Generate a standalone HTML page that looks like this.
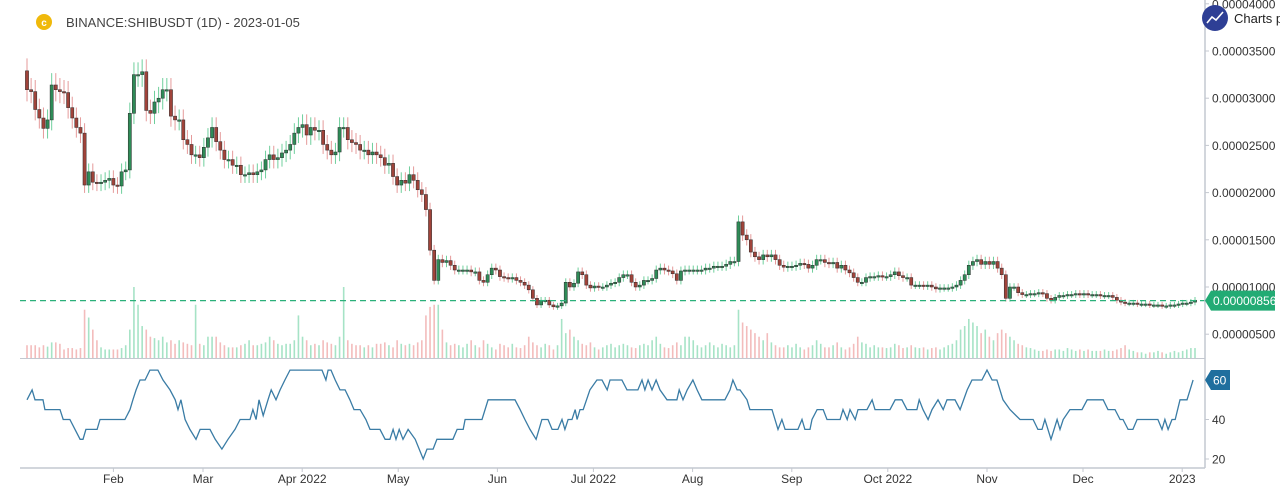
<!DOCTYPE html>
<html><head><meta charset="utf-8"><style>
html,body{margin:0;padding:0;background:#fff;width:1280px;height:499px;overflow:hidden}
svg{display:block;font-family:"Liberation Sans",sans-serif}
</style></head><body>
<svg id="chart" width="1280" height="499" viewBox="0 0 1280 499" xmlns="http://www.w3.org/2000/svg">
<g>
<circle cx="44" cy="22" r="8" fill="#f0b90b"/>
<text x="44" y="26" font-size="10" fill="#fff" text-anchor="middle" font-weight="bold">c</text>
<text x="66" y="27" font-size="13" fill="#444">BINANCE:SHIBUSDT (1D) - 2023-01-05</text>
</g>
<g id="grid"></g>
<g id="volumes"></g>
<g id="candles"></g>
<g id="rsi"></g>
<g id="axes"></g>
<g>
<circle cx="1215" cy="18" r="13" fill="#2e3f95"/>
<polyline points="1207,23 1212,17 1216,20 1223,12" fill="none" stroke="#fff" stroke-width="1.6"/>
<text x="1234" y="23" font-size="13" fill="#222">Charts p</text>
</g>
</svg>
<script>
const closes=[3090,3070,2880,2790,2680,2770,3140,3090,3070,3060,2900,2790,2690,2630,2080,2220,2110,2100,2110,2130,2150,2080,2070,2220,2240,2840,
3250,3250,3280,2870,2840,2960,3000,3090,3090,2810,2770,2770,2560,2510,2400,2400,2370,2480,2580,2690,2540,2450,2350,2350,2290,2290,2190,2190,2210,2190,2220,2240,2350,2400,2350,2370,2420,2450,2510,2630,2690,2720,2610,2690,2660,2660,2510,2450,2400,2430,2690,
2690,2560,2530,2510,2450,2450,2400,2430,2400,2370,2290,2310,2170,2080,2130,2100,2190,2130,2030,1980,1820,1390,1070,
1290,1260,1280,1230,1180,1180,1180,1180,1160,1160,1070,1050,1130,1200,1180,1110,1100,1090,1100,1070,1050,1020,970,880,810,860,860,810,790,800,830,1050,1000,1040,1160,1130,1020,990,1010,1000,1000,1020,1040,1050,1100,1130,1130,1050,1000,1020,1070,1070,1090,1180,1200,1180,1170,1140,1070,1170,1180,1180,1180,1180,1180,1200,1200,1220,1220,1220,1240,1270,1270,
1690,1550,1500,1370,1320,1290,1340,1320,1340,1290,1230,1210,1220,1220,1230,1250,1240,1200,1230,1290,1290,1260,1250,1260,1200,1230,1180,1150,1100,1050,1050,1100,1110,1110,1120,1110,1110,1130,1160,1120,1100,1100,1020,1020,1020,1010,1020,1000,980,990,990,990,1000,1020,1070,1130,1230,1270,1290,1240,1270,1240,1270,1200,1130,
880,1000,1000,940,920,920,930,930,940,930,880,860,890,910,910,920,920,930,920,930,920,920,920,910,910,910,890,860,840,830,830,830,820,820,820,810,810,810,800,800,810,810,820,830,830,840,860];
const firstOpen=3290;
const volumes=[18,18,18,15,18,16,22,22,20,12,14,14,12,14,68,57,40,25,15,12,12,12,12,14,18,40,
100,75,45,40,30,28,25,30,22,25,20,25,22,20,18,75,20,18,30,30,30,22,18,15,15,15,18,20,25,18,18,20,22,30,25,20,18,20,20,25,60,30,25,18,20,18,25,22,20,18,30,
100,25,20,18,18,15,18,15,20,20,22,18,15,25,20,18,20,18,22,25,60,72,75,
75,40,22,18,20,18,15,20,25,18,15,25,20,15,12,20,18,15,20,15,14,18,30,22,18,15,20,18,12,18,55,35,40,30,25,20,18,22,15,12,15,18,20,15,18,20,18,15,14,18,20,18,25,30,20,15,14,18,22,18,30,30,25,18,15,18,22,18,15,20,18,15,18,
68,50,45,40,35,30,25,35,22,18,15,15,18,15,20,15,12,15,18,25,20,15,15,18,22,15,12,15,20,30,22,20,15,18,15,15,14,15,20,18,14,15,18,15,14,15,12,14,15,12,15,18,20,25,40,45,55,50,45,35,40,30,25,35,40,
35,30,25,20,18,15,14,12,10,10,12,10,12,12,10,14,12,10,12,10,12,10,10,10,12,10,10,12,14,18,12,10,8,8,6,8,8,10,8,6,8,10,8,10,12,14,14];
const rsiDay=[0,1.6,2.5,5,5.6,10.3,11.3,13.4,15,16.6,17.5,18.4,21.9,22.8,30.6,32.2,33.1,34.1,35.3,36.9,38.4,40.9,42.5,44.7,46.3,47.2,48.1,49.4,50.9,52.8,54.1,57.2,58.8,60.9,62.8,65,66.6,69.7,70.6,71.6,72.5,73.8,75.3,76.3,77.8,79.1,80.6,82.2,92.2,93.4,94.1,95,96.3,97.8,99.4,100.9,102.2,104.1,105.9,107.2,110.3,111.9,113.4,114.4,115.3,116.3,117.5,119.1,121.3,123.8,125,126.9,128.1,133.1,134.4,136.3,136.9,142.2,144.1,152.5,154.1,155.6,157.2,159.1,160.9,162.8,164.1,165.9,167.2,168.1,169.1,170.3,171.3,171.9,172.8,173.8,175.9,178.1,179.7,181.3,182.2,185.9,187.5,190.9,192.2,193.1,194.1,195.3,196.6,197.8,200,203.1,203.8,205,206.3,208.1,209.4,210.9,218.1,219.7,220.6,221.9,222.8,225,225.9,232.8,234.7,235.9,236.9,240.9,242.2,243.1,244.7,245.3,246.9,248.8,250,254.1,255,256.3,257.2,258.8,259.7,262.5,264.1,265,269.7,271.3,273.4,275,278.1,278.8,280,281.6,282.8,284.7,286.3,287.5,290,291.6,293.8,295.3,298.4,300,301.6,303.1,305,307.2,310.3,314.4,315.9,317.2,318.1,320,321.9,322.8,323.8,325.9,329.7,331.3,336.3,337.8,340,341.6,342.5,344.1,345.6,346.9,353.4,354.7,355.6,356.6,357.8,358.8,360.3,362.5,364.4];
const rsiVal=[50,55,50,50,45,45,40,40,35,30,30,35,35,40,40,45,50,55,60,60,65,65,60,55,50,45,50,40,35,30,35,35,30,25,30,35,40,40,45,40,50,42,50,55,50,55,60,65,65,60,65,65,60,55,55,50,45,45,40,35,35,30,30,35,30,35,30,35,30,20,25,25,30,30,35,35,40,40,50,50,45,40,35,30,40,40,35,35,40,35,40,40,45,40,45,45,55,60,60,55,60,60,55,55,60,55,60,55,60,55,50,50,55,50,55,60,55,50,50,55,60,55,55,50,45,45,35,40,35,35,40,35,35,40,45,45,40,40,45,40,45,40,45,45,50,45,45,50,50,45,45,50,45,40,45,50,45,50,50,45,55,60,60,65,60,60,50,45,40,40,35,35,40,30,40,35,40,45,45,50,50,45,45,40,40,35,35,40,40,35,40,35,40,40,50,50,60];
const priceTicks=[500,1000,1500,2000,2500,3000,3500,4000];
const rsiTicks=[20,40];
const monthLabels=["Feb","Mar","Apr 2022","May","Jun","Jul 2022","Aug","Sep","Oct 2022","Nov","Dec","2023"];
const monthDays=[27,55,86,116,147,177,208,239,269,300,330,361];
const lastPrice=856, lastRsi=60;

const NS="http://www.w3.org/2000/svg";
const X0=27,X1=1195,DAYS=365;
const xDay=d=>X0+d*(X1-X0)/DAYS;
const xIdx=i=>X0+i*(X1-X0)/(closes.length-1);
const yP=p=>287-(p-1000)*0.0944;
const yR=v=>380-(v-60)*1.975;
const hV=v=>v*0.71;
function mk(tag,attrs,parent){const e=document.createElementNS(NS,tag);for(const k in attrs)e.setAttribute(k,attrs[k]);parent.appendChild(e);return e;}
const gC=document.getElementById('candles'),gV=document.getElementById('volumes'),gR=document.getElementById('rsi'),gA=document.getElementById('axes');

closes.forEach((c,i)=>{
  const o=i===0?firstOpen:closes[i-1];
  const up=c>=o, x=xIdx(i);
  const hi=Math.max(o,c)*1.04, lo=Math.min(o,c)*0.96;
  const w=mk('line',{x1:x,x2:x,y1:yP(hi),y2:yP(lo),stroke:up?'#6fcf9c':'#e59a9a','stroke-width':1},gC);
  
  
  const top=yP(Math.max(o,c)),bot=yP(Math.min(o,c));
  const b=mk('rect',{x:x-1.6,y:top,width:3.2,height:Math.max(1.4,bot-top),fill:up?'#2e8b57':'#a0433a',stroke:'#2b2b2b','stroke-width':0.5},gC);
  
  
  const v=volumes[i]||0;
  const vb=mk('rect',{x:x-0.8,y:358-hV(v),width:1.6,height:hV(v),fill:up?'#a6e3c6':'#f3bcbc'},gV);
  
  
});

const pl=mk('line',{x1:20,x2:1205,y1:yP(lastPrice),y2:yP(lastPrice),stroke:'#2bb07a','stroke-width':1.2,'stroke-dasharray':'6,4'},gC);



let pts=rsiDay.map((d,i)=>xDay(d).toFixed(1)+','+yR(rsiVal[i]).toFixed(1)).join(' ');
const rl=mk('polyline',{points:pts,fill:'none',stroke:'#3a7ca5','stroke-width':1.3},gR);



const ax=mk('line',{x1:1205,x2:1205,y1:0,y2:468,stroke:'#c4c8d0','stroke-width':1.5},gA);


const bx=mk('line',{x1:20,x2:1205,y1:468,y2:468,stroke:'#c4c8d0','stroke-width':1.5},gA);


const sep=mk('line',{x1:20,x2:1205,y1:358.5,y2:358.5,stroke:'#c4c8d0','stroke-width':1},gA);


priceTicks.forEach(p=>{
  const y=yP(p);
  mk('line',{x1:1205,x2:1209,y1:y,y2:y,stroke:'#c4c8d0'},gA);
  const t=mk('text',{x:1212,y:y+4.5,'font-size':12,fill:'#333'},gA);
  
  
  t.textContent=(p*1e-8).toFixed(8);
});
rsiTicks.forEach(v=>{
  const y=yR(v);
  mk('line',{x1:1205,x2:1209,y1:y,y2:y,stroke:'#c4c8d0'},gA);
  const t=mk('text',{x:1212,y:y+4.5,'font-size':12,fill:'#333'},gA);
  
  
  t.textContent=v;
});
monthLabels.forEach((m,i)=>{
  const x=xDay(monthDays[i]);
  mk('line',{x1:x,x2:x,y1:468,y2:472,stroke:'#c4c8d0'},gA);
  const t=mk('text',{x:x,y:483,'font-size':12,fill:'#333','text-anchor':'middle'},gA);
  
  
  t.textContent=m;
});
const yl=yP(lastPrice);
const lb=mk('path',{d:`M1205,${yl} L1211,${yl-10} L1275,${yl-10} L1275,${yl+10} L1211,${yl+10} Z`,fill:'#22ab74'},gA);


const lt=mk('text',{x:1213,y:yl+4.5,'font-size':12,fill:'#fff'},gA);


lt.textContent=(lastPrice*1e-8).toFixed(8);
const yr=yR(lastRsi);
const rb=mk('path',{d:`M1205,${yr} L1211,${yr-10} L1230,${yr-10} L1230,${yr+10} L1211,${yr+10} Z`,fill:'#1f6f9e'},gA);


const rt=mk('text',{x:1213,y:yr+4.5,'font-size':12,fill:'#fff'},gA);


rt.textContent=lastRsi;
</script>
</body></html>
